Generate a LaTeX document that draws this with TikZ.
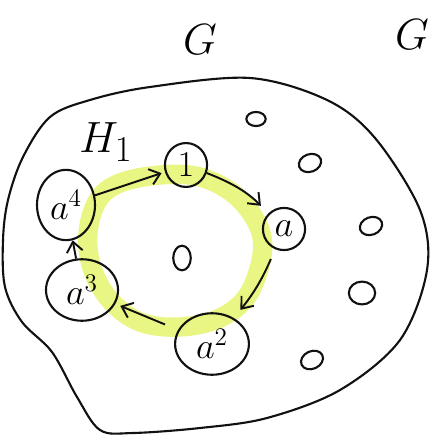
\documentclass[tikz,border=0pt]{standalone}
\usepackage{tikz}
\usetikzlibrary{arrows.meta,shapes.geometric}
\definecolor{encre}{HTML}{111111}
\definecolor{surligne}{HTML}{E9F683}
\tikzset{
  sommet/.style={draw=encre,ellipse,line width=1.2pt,inner sep=0pt,
                 font=\fontsize{20}{22}\selectfont},
  point/.style={draw=encre,ellipse,line width=1.2pt,inner sep=0pt},
  fleche/.style={-{Straight Barb[length=2mm,width=3.2mm]},line width=1.1pt,color=encre},
}

\begin{document}
\begin{tikzpicture}[x=0.02cm,y=-0.02cm,
  titre/.style={font=\fontsize{38}{42}\selectfont},
  petit/.style={point,minimum width=13pt,minimum height=10pt}]
  \useasboundingbox (0,0) rectangle (434,438);
  % the group G
  \draw[encre,line width=1.2pt] plot[smooth cycle,tension=0.55] coordinates {
    (90,100) (50,117) (23,157) (8,200) (3,240) (5,287) (22,322) (52,352)
    (77,397) (100,430) (133,433) (200,428) (267,418) (340,390) (400,340)
    (427,270) (420,210) (375,138) (327,100) (250,78) (150,87)};
  \node[titre] (g1) at (200,40) {$G$};
  \node[font=\fontsize{30}{34}\selectfont] (g2) at (412,35) {$G$};
  % subgroup H_1
  \draw[surligne,line width=11pt,line join=round] plot[smooth cycle,tension=0.6] coordinates {
    (120,183) (160,175) (200,177) (235,195) (258,225) (262,255) (248,295)
    (220,318) (180,327) (140,322) (110,300) (92,268) (88,233) (98,200)};
  \node[font=\fontsize{28}{32}\selectfont] (h) at (106,142) {$H_1$};
  \node[sommet,minimum width=24pt,minimum height=25pt] (n1) at (186,165) {$1$};
  \node[sommet,minimum width=24pt,minimum height=24pt] (na) at (284,229) {$a$};
  \node[sommet,minimum width=42pt,minimum height=35pt] (na2) at (212,344) {$a^2$};
  \node[sommet,minimum width=41pt,minimum height=35pt] (na3) at (82,290) {$a^3$};
  \node[sommet,minimum width=33pt,minimum height=40pt] (na4) at (66,205) {$a^4$};
  % other elements
  \node[point,minimum width=10pt,minimum height=14pt] (v0) at (182,258) {};
  \node[point,minimum width=11pt,minimum height=8pt] (v1) at (256,119) {};
  \node[petit,rotate=20] (v2) at (310,163) {};
  \node[petit,rotate=20] (v3) at (371,226) {};
  \node[point,minimum width=15pt,minimum height=13pt] (v4) at (362,293) {};
  \node[petit,rotate=25] (v5) at (312,360) {};
  \draw[fleche,shorten >=2pt] (na4) -- (n1);
  \draw[fleche,shorten >=6pt] (n1) to[bend left=12] (na);
  \draw[fleche,shorten <=6pt,shorten >=6pt] (na) to[bend left=8] (na2);
  \draw[fleche,shorten <=8pt,shorten >=3pt] (na2) -- (na3);
  \draw[fleche] (na3) -- (na4);
\end{tikzpicture}
\end{document}
